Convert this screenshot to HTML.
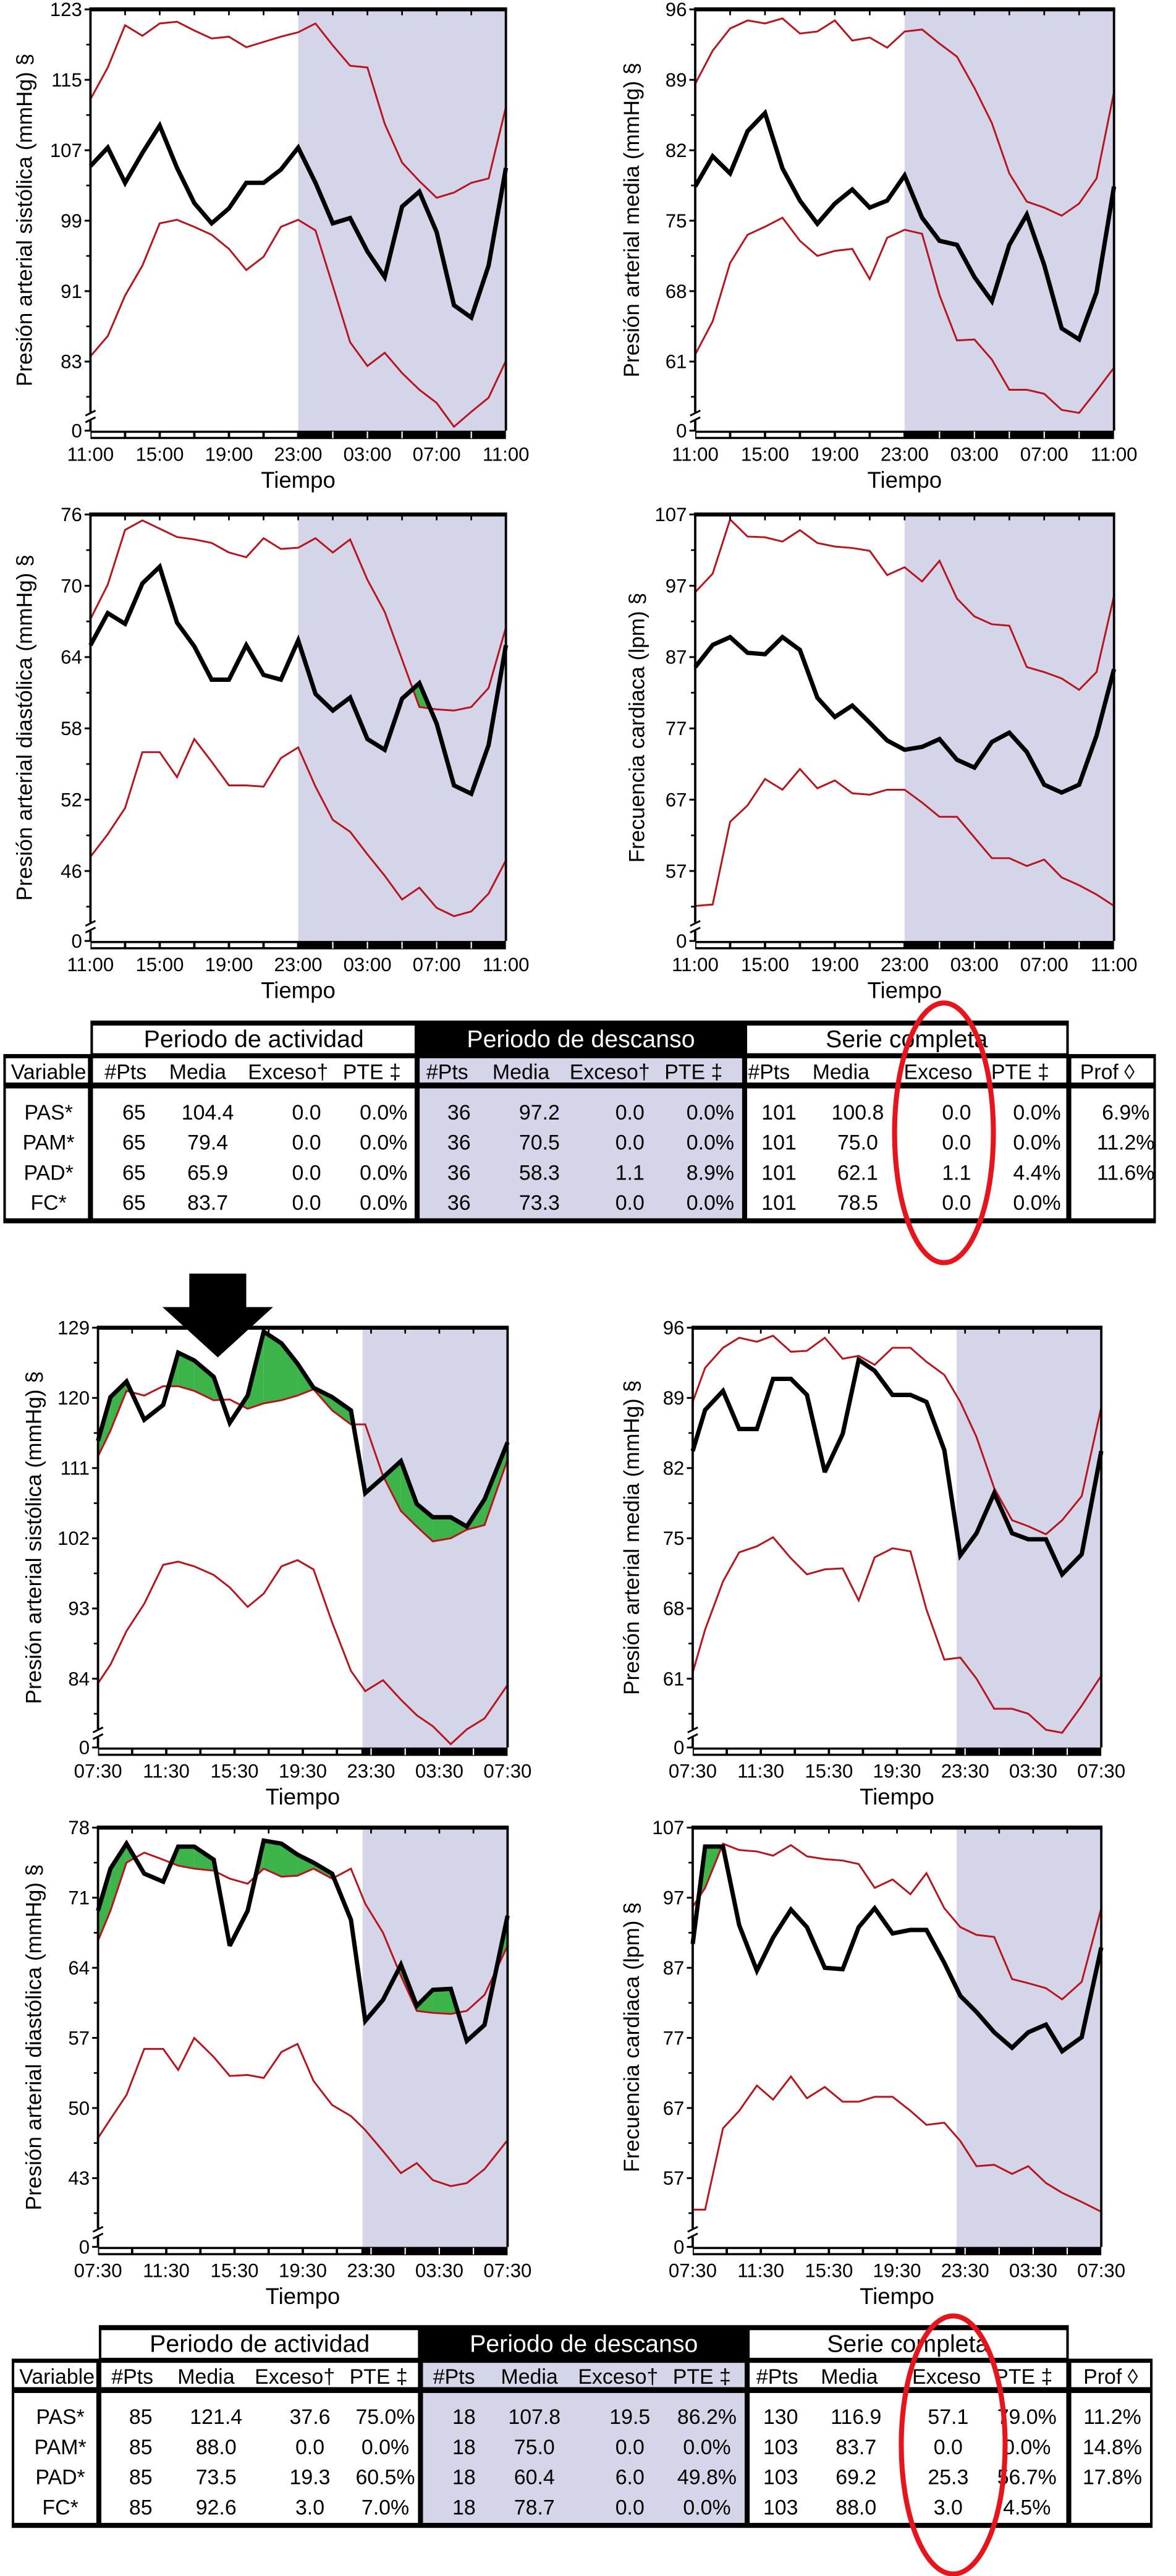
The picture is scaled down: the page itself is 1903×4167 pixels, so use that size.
<!DOCTYPE html>
<html><head><meta charset="utf-8"><title>Curvas de presión arterial</title>
<style>
html,body{margin:0;padding:0;background:#fff;}
svg{display:block;}
text{font-family:"Liberation Sans",sans-serif;fill:#000;}
.nar{font-family:"Liberation Sans Narrow","Liberation Sans",sans-serif;}
</style></head>
<body>
<svg id="fig" xmlns="http://www.w3.org/2000/svg" width="1903" height="4167" viewBox="0 0 702 1537.2" preserveAspectRatio="none">
<rect x="0" y="0" width="702" height="1537.2" fill="#fff"/>
</svg>
<script>
// ---------- data ----------
const hoursTop = [0,1,2,3,4,5,6,7,8,9,10,11,12,13,14,15,16,17,18,19,20,21,22,23,24];
const hoursBL = [0,0.73,1.67,2.71,3.82,4.7,5.64,6.78,7.72,8.77,9.71,10.75,11.69,12.63,13.72,14.82,15.66,16.7,17.75,18.68,19.62,20.67,21.61,22.65,24];
const hoursBR = [0,0.73,1.78,2.73,3.77,4.72,5.77,6.71,7.76,8.81,9.75,10.69,11.74,12.79,13.73,14.78,15.72,16.67,17.71,18.76,19.71,20.75,21.7,22.85,24];
const xLabelsTop = ["11:00","15:00","19:00","23:00","03:00","07:00","11:00"];
const xLabelsBottom = ["07:30","11:30","15:30","19:30","23:30","03:30","07:30"];

const pas1Ticks = [123,115,107,99,91,83];
const pas1Mean = [105.2,107.3,103.3,106.7,109.8,105,101,98.7,100.4,103.3,103.3,104.8,107.3,103.3,98.7,99.3,95.5,92.6,100.6,102.3,97.7,89.4,88,93.9,105];
const pas1Upper = [112.8,116.4,121.2,120,121.4,121.6,120.6,119.7,119.9,118.7,119.3,119.9,120.4,121.4,118.9,116.6,116.4,110,105.6,103.5,101.6,102.2,103.3,103.8,111.9];
const pas1Lower = [83.6,85.9,90.5,93.9,98.7,99.1,98.3,97.4,95.8,93.4,94.9,98.3,99.1,97.9,91.6,85.2,82.5,84,81.7,79.8,78.3,75.6,77.3,78.9,83.1];

const pam1Ticks = [96,89,82,75,68,61];
const pam1Mean = [78.4,81.4,79.7,83.9,85.7,80.2,77,74.7,76.7,78.1,76.3,77,79.5,75.3,73,72.6,69.4,67,72.6,75.6,70.6,64.3,63.2,67.9,78.4];
const pam1Upper = [88.6,91.9,94.1,94.9,94.6,95.1,93.6,93.8,94.9,92.9,93.2,92.2,93.8,94,92.6,91.3,88.2,84.7,79.7,76.9,76.3,75.5,76.7,79.2,87.8];
const pam1Lower = [61.7,65,70.8,73.6,74.4,75.3,73,71.5,72,72.2,69.2,73.3,74.1,73.7,67.6,63.1,63.2,61.2,58.2,58.2,57.8,56.2,55.9,58.1,60.4];

const pad1Ticks = [76,70,64,58,52,46];
const pad1Mean = [65,67.7,66.8,70.2,71.6,66.9,64.9,62.1,62.1,65,62.5,62.1,65.4,60.9,59.5,60.6,57.1,56.2,60.5,61.8,58.4,53.2,52.5,56.6,65];
const pad1Upper = [67.2,70.1,74.7,75.5,74.8,74.1,73.9,73.6,72.8,72.4,74,73.1,73.2,74,72.8,73.9,70.5,67.8,63.8,59.8,59.6,59.5,59.8,61.4,66.5];
const pad1Lower = [47.2,49.1,51.3,56,56,53.9,57.1,55.2,53.2,53.2,53.1,55.5,56.4,53.1,50.3,49.3,47.4,45.6,43.6,44.6,42.9,42.2,42.6,44.1,46.9];

const fc1Ticks = [107,97,87,77,67,57];
const fc1Mean = [85.6,88.7,89.8,87.6,87.4,89.8,88,81.3,78.6,80.2,77.8,75.3,74,74.4,75.5,72.6,71.5,75.1,76.4,73.7,69.1,68,69.1,76,85.3];
const fc1Upper = [96.1,98.7,106.3,103.9,103.8,103.2,104.8,103,102.5,102.3,101.9,98.5,99.6,97.6,100.5,95.2,92.7,91.6,91.4,85.6,84.9,84,82.4,84.9,95.6];
const fc1Lower = [52.1,52.3,63.9,66.2,69.9,68.4,71.3,68.6,69.7,67.9,67.7,68.4,68.4,66.6,64.6,64.6,61.7,58.8,58.8,57.7,58.6,56.1,55,53.7,52.1];

const pas2Ticks = [129,120,111,102,93,84];
const pas2Mean = [114.5,120.1,122.1,117.2,119.1,125.8,124.8,122.7,116.8,120.3,128.5,127,124.4,121.3,120.1,118.4,107.8,109.8,111.9,106.4,104.7,104.7,103.5,107,114.3];
const pas2Upper = [112.5,115.8,120.9,120.3,121.5,121.5,120.9,119.7,119.8,118.6,119.3,119.7,120.3,121.1,118.4,116.6,116.6,110,105.5,103.5,101.6,102,103.1,103.7,112.1];
const pas2Lower = [83.4,85.8,90.1,93.6,98.6,99,98.4,97.3,95.7,93.2,94.9,98.4,99.2,98,91.2,85,82.4,83.8,81.3,79.3,77.9,75.6,77.5,78.9,83.2];

const pam2Ticks = [96,89,82,75,68,61];
const pam2Mean = [83.7,87.8,89.7,85.9,85.9,90.9,90.9,89.3,81.6,85.4,92.8,91.7,89.3,89.3,88.6,83.8,73.3,75.5,79.5,75.5,74.9,74.9,71.4,73.4,83.7];
const pam2Upper = [88.6,92,94,95,94.6,95.2,93.6,93.7,95,92.9,93.2,92.3,94,94,92.6,91.3,88.6,85.1,80,76.8,76.2,75.4,76.8,79.2,88.1];
const pam2Lower = [61.6,65.9,70.7,73.6,74.2,75.1,73,71.4,71.9,72,68.8,73.1,74,73.7,67.9,62.9,63.1,61,58,58,57.5,55.9,55.6,58.3,61.3];

const pad2Ticks = [78,71,64,57,50,43];
const pad2Mean = [69.7,73.9,76.4,73.4,72.6,76.1,76.1,74.8,66.2,69.7,76.7,76.4,75.3,74.5,73.4,68.8,58.7,60.8,64.3,60.2,61.8,61.9,56.7,58.3,69.2];
const pad2Upper = [66.7,69.7,74.5,75.5,74.8,74.2,73.9,73.7,72.9,72.4,73.9,73.1,73.2,73.9,72.9,73.9,70.4,67.5,63.2,59.7,59.5,59.4,59.7,61.3,66.2];
const pad2Lower = [47,48.9,51.3,55.9,55.9,53.8,57,55.1,53.2,53.3,53,55.6,56.4,52.7,50.3,49.2,47.8,45.7,43.5,44.5,42.8,42.2,42.5,43.9,46.8];

const fc2Ticks = [107,97,87,77,67,57];
const fc2Mean = [90.4,104.3,104.3,93.1,86.6,91.3,95.3,92.8,87,86.8,92.8,95.5,91.9,92.4,92.4,87.7,83,80.7,77.8,75.6,77.8,78.9,75.1,77.1,89.9];
const fc2Upper = [95.7,98.4,104.7,103.8,103.6,103,104.5,102.9,102.5,102.3,101.8,98.4,99.6,97.5,100.5,95.5,92.8,91.7,91.4,85.4,84.8,84.1,82.5,85,95.5];
const fc2Lower = [52.5,52.5,64.1,66.6,70.2,68.2,71.5,68.4,70,67.9,67.9,68.6,68.6,66.6,64.6,64.9,62.3,58.7,58.9,57.6,58.7,56.3,54.9,53.6,52.2];

// table data
const tableVars1 = ["PAS*","PAM*","PAD*","FC*"];
const table1Rows = [
 ["65","104.4","0.0","0.0%","36","97.2","0.0","0.0%","101","100.8","0.0","0.0%","6.9%"],
 ["65","79.4","0.0","0.0%","36","70.5","0.0","0.0%","101","75.0","0.0","0.0%","11.2%"],
 ["65","65.9","0.0","0.0%","36","58.3","1.1","8.9%","101","62.1","1.1","4.4%","11.6%"],
 ["65","83.7","0.0","0.0%","36","73.3","0.0","0.0%","101","78.5","0.0","0.0%",""]];
const table2Rows = [
 ["85","121.4","37.6","75.0%","18","107.8","19.5","86.2%","130","116.9","57.1","79.0%","11.2%"],
 ["85","88.0","0.0","0.0%","18","75.0","0.0","0.0%","103","83.7","0.0","0.0%","14.8%"],
 ["85","73.5","19.3","60.5%","18","60.4","6.0","49.8%","103","69.2","25.3","56.7%","17.8%"],
 ["85","92.6","3.0","7.0%","18","78.7","0.0","0.0%","103","88.0","3.0","4.5%",""]];
const headers1 = ["Variable","#Pts","Media","Exceso†","PTE ‡","#Pts","Media","Exceso†","PTE ‡","#Pts","Media","Exceso","PTE  ‡","Prof ◊"];
const groupNames = ["Periodo de actividad","Periodo de descanso","Serie completa"];

// ---------- drawing ----------
const NS = "http://www.w3.org/2000/svg";
const svg = document.getElementById("fig");
const RED = "#b8141e", SHADE = "#d5d5e9", GREEN = "#3cb44a";
function mk(tag, attrs, parent){
  const e = document.createElementNS(NS, tag);
  for (const k in attrs) e.setAttribute(k, attrs[k]);
  parent.appendChild(e);
  return e;
}
function txt(str, attrs, parent){
  const e = mk("text", attrs, parent);
  e.textContent = str;
  return e;
}

function drawChart(c){
  const g = mk("g", {}, svg);
  
  
  const maxV = c.ticks[0], minV = c.ticks[c.ticks.length-1];
  const step = c.ticks[0]-c.ticks[1];
  const yLow = c.top + 0.836*(c.y1 - c.top);
  const ys = v => c.top + (maxV - v)/(maxV - minV)*(yLow - c.top);
  const xs = h => c.x0 + h/24*(c.x1 - c.x0);

  const sh = mk("rect", {x:xs(c.shadeH), y:c.top, width:c.x1-xs(c.shadeH), height:c.y1-c.top, fill:SHADE}, g);
  
  

  const P = (i, arr) => [xs(c.hours[i]), ys(arr[i])];
  for (let i=0;i<c.mean.length-1;i++){
    const a = c.mean[i]-c.upper[i], b = c.mean[i+1]-c.upper[i+1];
    let pts = null;
    if (a>=0 && b>=0 && (a>0||b>0)) pts = [P(i,c.mean),P(i+1,c.mean),P(i+1,c.upper),P(i,c.upper)];
    else if (a>0 || b>0){
      const t = a/(a-b);
      const hc = c.hours[i]+t*(c.hours[i+1]-c.hours[i]);
      const vc = c.upper[i]+t*(c.upper[i+1]-c.upper[i]);
      const cp = [xs(hc), ys(vc)];
      pts = a>0 ? [P(i,c.mean),cp,P(i,c.upper)] : [cp,P(i+1,c.mean),P(i+1,c.upper)];
    }
    if (pts){
      const pg = mk("polygon", {points:pts.map(p=>p.join(",")).join(" "), fill:GREEN, stroke:"none"}, g);
      
      
    }
  }
  const line = (arr, col, w, nm) => {
    const pts = arr.map((v,i)=>xs(c.hours[i])+","+ys(v)).join(" ");
    const pl = mk("polyline", {points:pts, fill:"none", stroke:col, "stroke-width":w, "stroke-linejoin":"miter", "stroke-miterlimit":3}, g);
    
    
  };
  line(c.upper, RED, 1.1, 'upper-limit-line');
  line(c.lower, RED, 1.1, 'lower-limit-line');
  line(c.mean, "#000", 2.6, 'mean-line');

  const fr = mk("path", {d:`M${c.x0},${c.y1} L${c.x0},${c.top} M${c.x1},${c.top} L${c.x1},${c.y1}`, stroke:"#000", "stroke-width":1.4, fill:"none"}, g);
  
  
  const tb = mk("line", {x1:c.x0-0.7, y1:c.top, x2:c.x1+0.7, y2:c.top, stroke:"#000", "stroke-width":2.4}, g);
  
  
  for (let h=2; h<24; h+=2){
    const t = mk("line", {x1:xs(h), y1:c.top, x2:xs(h), y2:c.top+3.5, stroke:"#000", "stroke-width":1}, g);
    
    
  }
  const band = mk("rect", {x:c.x0, y:c.y1, width:c.x1-c.x0, height:5, fill:"#000"}, g);
  
  
  for (let h=0; h<c.shadeH; h+=2){
    const e = Math.min(h+2, c.shadeH);
    const r = mk("rect", {x:xs(h)+0.7, y:c.y1+1.3, width:xs(e)-xs(h)-1.4, height:2.4, fill:"#fff"}, g);
    
    
  }
  for (let h=Math.ceil(c.shadeH/2)*2; h<24; h+=2){
    if (h===c.shadeH) continue;
    const l = mk("line", {x1:xs(h), y1:c.y1+0.5, x2:xs(h), y2:c.y1+4.5, stroke:"#fff", "stroke-width":0.8}, g);
    
    
  }
  c.ticks.forEach(v=>{
    const y = ys(v);
    const t = mk("line", {x1:c.x0-3.5, y1:y, x2:c.x0, y2:y, stroke:"#000", "stroke-width":1.1}, g);
    
    
    const tl = txt(String(v), {x:c.x0-5, y:y+4, "font-size":11.5, "text-anchor":"end"}, g);
    
    
  });
  for (let v=maxV-step/2; v>=minV-step/2-0.01; v-=step){
    const y = ys(v);
    const t = mk("line", {x1:c.x0-2.5, y1:y, x2:c.x0, y2:y, stroke:"#000", "stroke-width":1}, g);
    
    
  }
  const z0 = mk("line", {x1:c.x0-3.5, y1:c.y1, x2:c.x0, y2:c.y1, stroke:"#000", "stroke-width":1.1}, g);
  
  
  const zl = txt("0", {x:c.x0-5, y:c.y1+4, "font-size":11.5, "text-anchor":"end"}, g);
  
  
  const by = c.y1 - 9;
  const bw = mk("rect", {x:c.x0-3, y:by-2, width:6, height:5, fill:"#fff"}, g);
  
  
  const bk = mk("path", {d:`M${c.x0-3},${by} L${c.x0+3},${by-3} M${c.x0-3},${by+4} L${c.x0+3},${by+1}`, stroke:"#000", "stroke-width":1.1, fill:"none"}, g);
  
  
  c.xlabels.forEach((s,i)=>{
    const xl = txt(s, {x:xs(i*4), y:c.y1+18, "font-size":11.5, "text-anchor":"middle"}, g);
    
    
  });
  const xt = txt("Tiempo", {x:(c.x0+c.x1)/2, y:c.y1+34, "font-size":13.5, "text-anchor":"middle"}, g);
  
  
  const cy = (c.top+c.y1)/2;
  const yt = txt(c.title, {x:c.titleX, y:cy, "font-size":13, "text-anchor":"middle", transform:`rotate(-90 ${c.titleX} ${cy})`, dy:"4.5"}, g);
  
  
}

drawChart({name:'chart-pas-1', x0:54, x1:302, top:5.6, y1:257, shadeH:12, hours:hoursTop, ticks:pas1Ticks, mean:pas1Mean, upper:pas1Upper, lower:pas1Lower, xlabels:xLabelsTop, title:"Presión arterial sistólica (mmHg) §", titleX:14.5});
drawChart({name:'chart-pam-1', x0:415, x1:665, top:5.6, y1:257, shadeH:12, hours:hoursTop, ticks:pam1Ticks, mean:pam1Mean, upper:pam1Upper, lower:pam1Lower, xlabels:xLabelsTop, title:"Presión arterial media (mmHg) §", titleX:377});
drawChart({name:'chart-pad-1', x0:54, x1:302, top:307, y1:561.5, shadeH:12, hours:hoursTop, ticks:pad1Ticks, mean:pad1Mean, upper:pad1Upper, lower:pad1Lower, xlabels:xLabelsTop, title:"Presión arterial diastólica (mmHg) §", titleX:14.5});
drawChart({name:'chart-fc-1', x0:415, x1:665, top:307, y1:561.5, shadeH:12, hours:hoursTop, ticks:fc1Ticks, mean:fc1Mean, upper:fc1Upper, lower:fc1Lower, xlabels:xLabelsTop, title:"Frecuencia cardiaca (lpm) §", titleX:380});
drawChart({name:'chart-pas-2', x0:58.5, x1:303, top:792.3, y1:1042.8, shadeH:15.5, hours:hoursBL, ticks:pas2Ticks, mean:pas2Mean, upper:pas2Upper, lower:pas2Lower, xlabels:xLabelsBottom, title:"Presión arterial sistólica (mmHg) §", titleX:20});
drawChart({name:'chart-pam-2', x0:413.5, x1:657.4, top:792.3, y1:1042.8, shadeH:15.5, hours:hoursBR, ticks:pam2Ticks, mean:pam2Mean, upper:pam2Upper, lower:pam2Lower, xlabels:xLabelsBottom, title:"Presión arterial media (mmHg) §", titleX:377});
drawChart({name:'chart-pad-2', x0:58.5, x1:303, top:1090.6, y1:1340.8, shadeH:15.5, hours:hoursBL, ticks:pad2Ticks, mean:pad2Mean, upper:pad2Upper, lower:pad2Lower, xlabels:xLabelsBottom, title:"Presión arterial diastólica (mmHg) §", titleX:20});
drawChart({name:'chart-fc-2', x0:413.5, x1:657.4, top:1090.6, y1:1340.8, shadeH:15.5, hours:hoursBR, ticks:fc2Ticks, mean:fc2Mean, upper:fc2Upper, lower:fc2Lower, xlabels:xLabelsBottom, title:"Frecuencia cardiaca (lpm) §", titleX:377});

// ---------- tables ----------
function drawTable(t){
  const g = mk("g", {}, svg);
  
  
  const T = t.top, C = t.cols;
  const gh = mk("rect", {x:C[1], y:T, width:C[4]-C[1], height:21, fill:"#000"}, g);
  
  
  const ga = mk("rect", {x:C[1]+1.5, y:T+3, width:C[2]-C[1]-3, height:16.5, fill:"#fff"}, g);
  
  
  const gs = mk("rect", {x:C[3]+1.5, y:T+3, width:C[4]-C[3]-3, height:16.5, fill:"#fff"}, g);
  
  
  const gx = [(C[1]+C[2])/2, (C[2]+C[3])/2, (C[3]+C[4])/2];
  groupNames.forEach((s,i)=>{
    const e = txt(s, {x:gx[i], y:T+16, "font-size":14.5, "text-anchor":"middle", class:"nar", style:i===1?"fill:#fff":""}, g);
    
    
  });
  const mf = mk("rect", {x:C[0], y:T+20, width:C[5]-C[0], height:101, fill:"#000"}, g);
  
  
  const rowsY = [[T+22.5, 14.5], [T+40.5, 77.5]];
  rowsY.forEach(([y,h],ri)=>{
    for (let k=0;k<5;k++){
      const x = C[k] + 1.5, w = C[k+1]-C[k]-3;
      const r = mk("rect", {x:x, y:y, width:w, height:h, fill:k===2?SHADE:"#fff"}, g);
      
      
    }
  });
  t.hx.forEach((x,i)=>{
    const e = txt(headers1[i], {x:x, y:T+35, "font-size":12.5, "text-anchor":"middle", class:"nar"}, g);
    
    
  });
  t.rows.forEach((row,ri)=>{
    const y = T + t.rowDy[ri];
    const v = txt(tableVars1[ri], {x:t.varX, y:y, "font-size":12.5, "text-anchor":"middle", class:"nar"}, g);
    
    
    row.forEach((s,ci)=>{
      if (!s) return;
      const e = txt(s, {x:t.dx[ci], y:y, "font-size":12.5, "text-anchor":"middle", class:"nar"}, g);
      
      
    });
  });
}
drawTable({name:'summary-table-1', top:609, cols:[2,54,249,444.5,638,690],
  hx:[29,75,118,172,222,267,311,364,414,459,502,560,609,661],
  dx:[80,124,183,229,274,322,376,424,465,512,571,619,672],
  varX:29, rowDy:[59,77,95,113], rows:table1Rows});
drawTable({name:'summary-table-2', top:1387.5, cols:[7,59,251,446,638,688],
  hx:[34,79,123,176,226,271,316,369,419,464,507,565,611,663],
  dx:[84,129,185,230,277,319,376,422,466,511,566,613,664],
  varX:36, rowDy:[59,77,95,113], rows:table2Rows});

// ---------- annotations ----------
const e1 = mk("ellipse", {cx:563.5, cy:676, rx:29.5, ry:77.5, fill:"none", stroke:"#e8141c", "stroke-width":3}, svg);


const e2 = mk("ellipse", {cx:569, cy:1459, rx:31, ry:77, fill:"none", stroke:"#e8141c", "stroke-width":3}, svg);


const ar = mk("path", {d:"M113,760 L147,760 L147,780 L163,780 L130,810 L97,780 L113,780 Z", fill:"#000"}, svg);


</script>
</body></html>
